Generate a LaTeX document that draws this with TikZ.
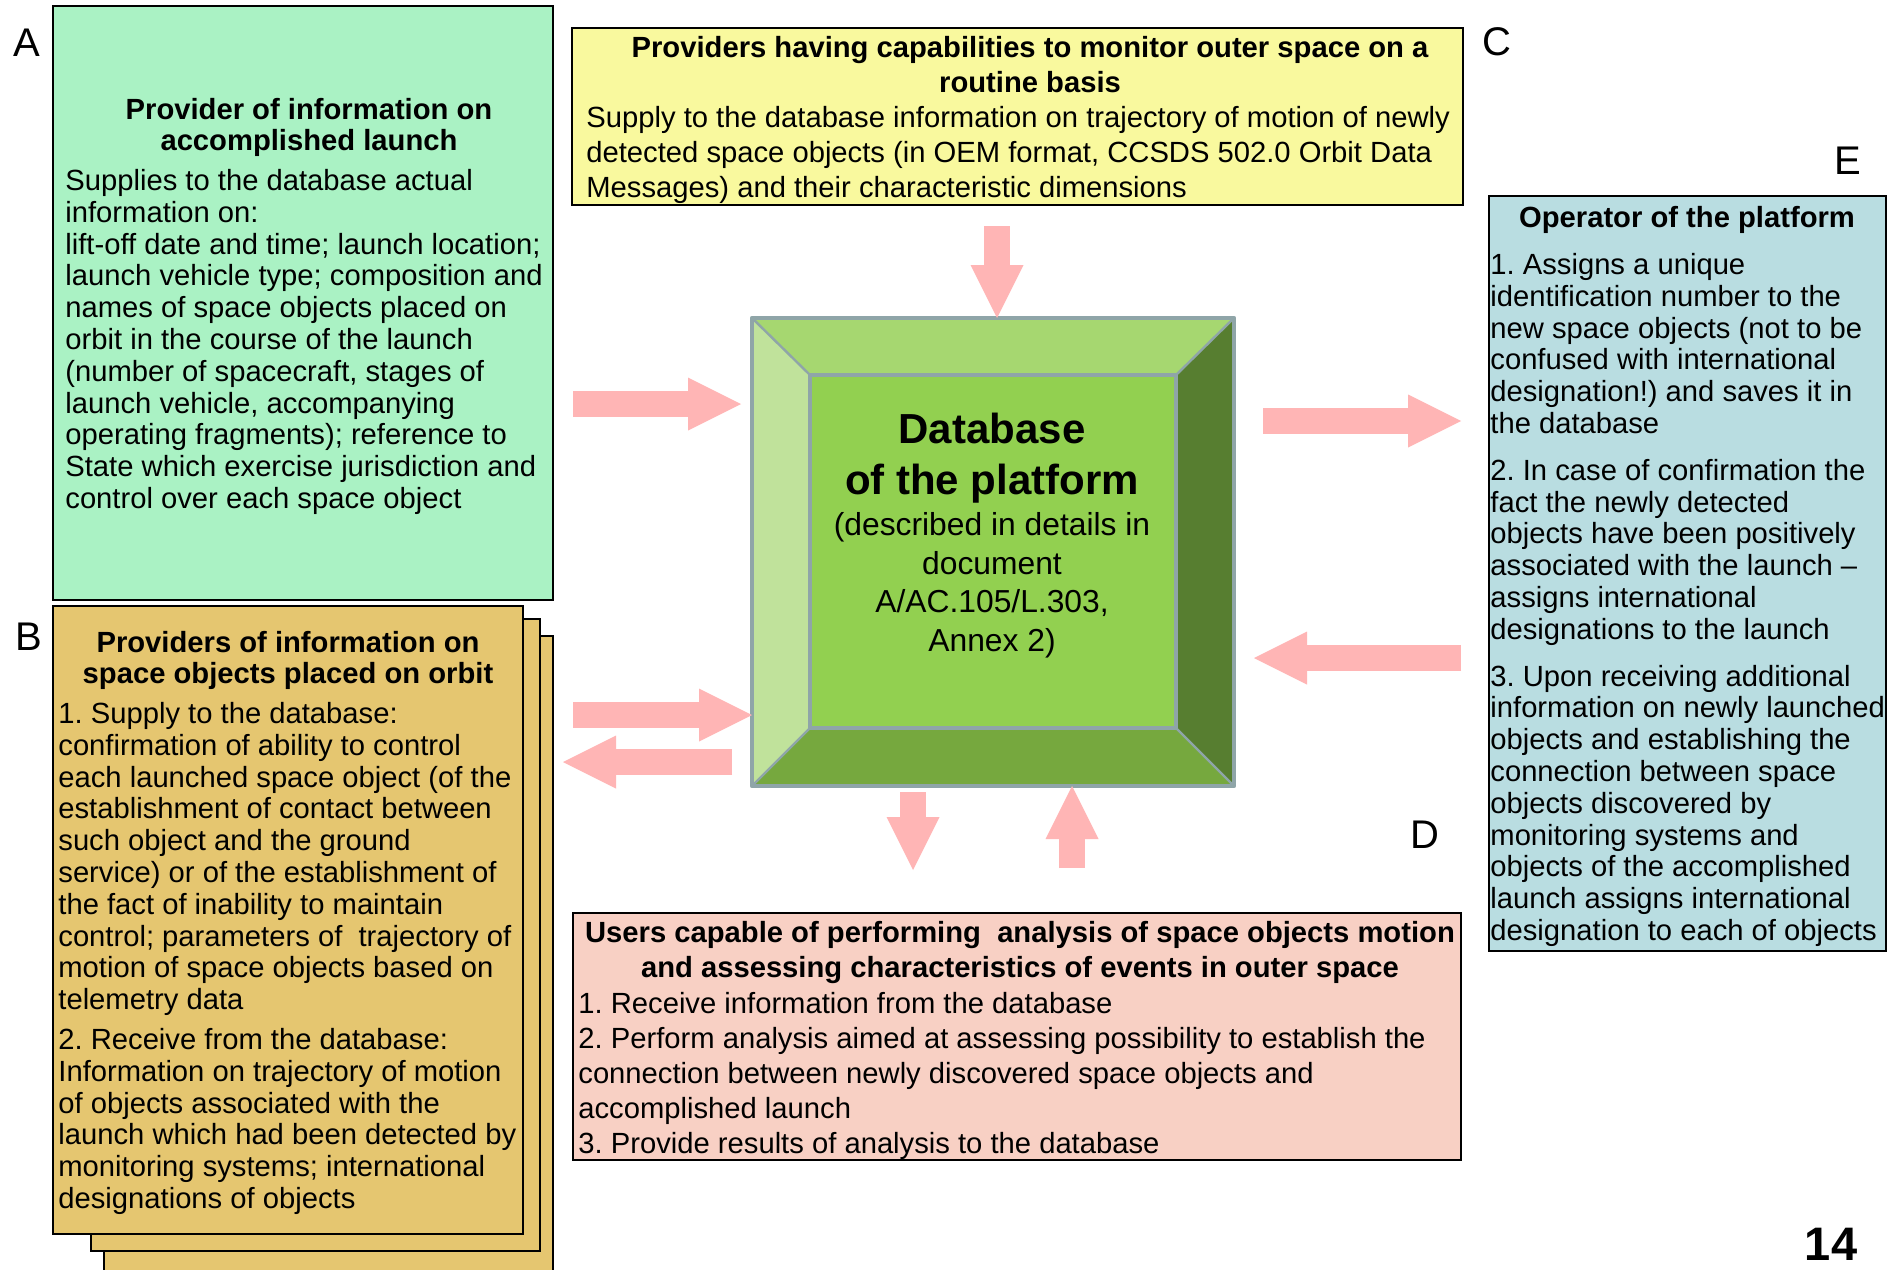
\documentclass[tikz,border=0pt]{standalone}
\usepackage{fontspec}
\setmainfont{Liberation Sans}
\usetikzlibrary{arrows.meta}
\frenchspacing

\definecolor{fillA}{RGB}{170,242,196}
\definecolor{fillB}{RGB}{229,198,112}
\definecolor{fillC}{RGB}{249,249,158}
\definecolor{fillD}{RGB}{248,208,196}
\definecolor{fillE}{RGB}{185,221,225}
\definecolor{pinkarr}{RGB}{255,181,181}
\definecolor{dbborder}{RGB}{143,165,168}
\definecolor{dbtop}{RGB}{166,215,112}
\definecolor{dbleft}{RGB}{192,226,155}
\definecolor{dbinner}{RGB}{146,208,80}
\definecolor{dbbottom}{RGB}{118,168,62}
\definecolor{dbright}{RGB}{87,126,48}

\tikzset{
  infobox/.style={draw=black, line width=0.8pt, inner sep=0pt, outer sep=0pt, anchor=north west},
  bodytext/.style={inner sep=0pt, anchor=north west, align=left, font=\fontsize{14.6}{15.9}\selectfont\frenchspacing},
  widebody/.style={inner sep=0pt, anchor=north west, align=left, font=\fontsize{14.6}{17.5}\selectfont\frenchspacing},
  titletext/.style={inner sep=0pt, anchor=north, align=center, font=\fontsize{14.6}{15.5}\selectfont\bfseries},
  widetitle/.style={inner sep=0pt, anchor=north, align=center, font=\fontsize{14.6}{17.5}\selectfont\bfseries},
  letterlabel/.style={inner sep=0pt, font=\fontsize{20}{24}\selectfont},
  blockarrow/.style={draw=pinkarr, line width=13pt, line cap=butt,
    -{Triangle[length=26.5pt, width=26.5pt, line width=0pt]}},
}

\begin{document}
\begin{tikzpicture}[x=0.5pt, y=-0.5pt]
\useasboundingbox (0,0) rectangle (1893,1269);
\fill[white] (0,0) rectangle (1893,1269);

% ---------- Box A ----------
\node[infobox, fill=fillA, minimum width=250pt, minimum height=297pt] (A) at (53,6) {};
\node[titletext] (Atitle) at (309,98) {Provider of information on\\accomplished launch};
\node[bodytext] (Abody) at (65,169) {Supplies to the database actual\\
information on:\\
lift-off date and time; launch location;\\
launch vehicle type; composition and\\
names of space objects placed on\\
orbit in the course of the launch\\
(number of spacecraft, stages of\\
launch vehicle, accompanying\\
operating fragments); reference to\\
State which exercise jurisdiction and\\
control over each space object};
\node[letterlabel] (LA) at (27,43) {A};

% ---------- Box B (stacked pages) ----------
\coordinate (B3nw) at (104,636);
\fill[fillB] (104,636) rectangle (553,1272);
\draw[black, line width=0.8pt] (104,1272) -- (B3nw) -- (553,636) -- (553,1272);
\node[infobox, fill=fillB, minimum width=224.5pt, minimum height=316pt] (B2) at (91,619) {};
\node[infobox, fill=fillB, minimum width=235pt, minimum height=314pt] (B) at (53,606) {};
\node[titletext] (Btitle) at (288,631) {Providers of information on\\space objects placed on orbit};
\node[bodytext] (Bbody) at (58,702) {1. Supply to the database:\\
confirmation of ability to control\\
each launched space object (of the\\
establishment of contact between\\
such object and the ground\\
service) or of the establishment of\\
the fact of inability to maintain\\
control; parameters of~ trajectory of\\
motion of space objects based on\\
telemetry data\\[4pt]
2. Receive from the database:\\
Information on trajectory of motion\\
of objects associated with the\\
launch which had been detected by\\
monitoring systems; international\\
designations of objects};
\node[letterlabel] (LB) at (29,637) {B};

% ---------- Box C ----------
\node[infobox, fill=fillC, minimum width=445.5pt, minimum height=88.5pt] (C) at (572,28) {};
\node[widetitle] (Ctitle) at (1030,36) {Providers having capabilities to monitor outer space on a\\routine basis};
\node[widebody] (Cbody) at (586,106) {Supply to the database information on trajectory of motion of newly\\
detected space objects (in OEM format, CCSDS 502.0 Orbit Data\\
Messages) and their characteristic dimensions};
\node[letterlabel] (LC) at (1497,42) {C};

% ---------- Box D ----------
\node[infobox, fill=fillD, minimum width=444pt, minimum height=123.5pt] (D) at (573,913) {};
\node[widetitle] (Dtitle) at (1020,921) {Users capable of performing~ analysis of space objects motion\\and assessing characteristics of events in outer space};
\node[widebody] (Dbody) at (578,992) {1. Receive information from the database\\
2. Perform analysis aimed at assessing possibility to establish the\\
connection between newly discovered space objects and\\
accomplished launch\\
3. Provide results of analysis to the database};
\node[letterlabel] (LD) at (1425,835) {D};

% ---------- Box E ----------
\node[infobox, fill=fillE, minimum width=198.5pt, minimum height=377.5pt] (E) at (1489,196) {};
\node[titletext] (Etitle) at (1687,206) {Operator of the platform};
\node[bodytext] (Ebody) at (1490,253) {1. Assigns a unique\\
identification number to the\\
new space objects (not to be\\
confused with international\\
designation!) and saves it in\\
the database\\[7.5pt]
2. In case of confirmation the\\
fact the newly detected\\
objects have been positively\\
associated with the launch –\\
assigns international\\
designations to the launch\\[7.5pt]
3. Upon receiving additional\\
information on newly launched\\
objects and establishing the\\
connection between space\\
objects discovered by\\
monitoring systems and\\
objects of the accomplished\\
launch assigns international\\
designation to each of objects};
\node[letterlabel] (LE) at (1848,161) {E};

% ---------- Database ----------
\node[inner sep=0pt, outer sep=0pt, anchor=north west, minimum width=241pt, minimum height=234pt] (DB) at (752,318) {};
\node[inner sep=0pt, outer sep=0pt, anchor=north west, minimum width=183pt, minimum height=176.5pt] (DBin) at (810,375) {};
\fill[dbtop] (DB.north west) -- (DB.north east) -- (DBin.north east) -- (DBin.north west) -- cycle;
\fill[dbleft] (DB.north west) -- (DBin.north west) -- (DBin.south west) -- (DB.south west) -- cycle;
\fill[dbbottom] (DB.south west) -- (DBin.south west) -- (DBin.south east) -- (DB.south east) -- cycle;
\fill[dbright] (DB.north east) -- (DBin.north east) -- (DBin.south east) -- (DB.south east) -- cycle;
\fill[dbinner] (DBin.north west) rectangle (DBin.south east);
\draw[dbborder, line width=1.2pt] (DB.north west) -- (DBin.north west)
  (DB.north east) -- (DBin.north east) (DB.south west) -- (DBin.south west)
  (DB.south east) -- (DBin.south east);
\draw[dbborder, line width=2.4pt, line join=round] (DB.north west) rectangle (DB.south east);
\draw[dbborder, line width=2.4pt] (DBin.north west) rectangle (DBin.south east);
\node[inner sep=0pt, anchor=north, align=center, font=\fontsize{21}{25.4}\selectfont\bfseries] (DBtitle) at (992,413) {Database\\of the platform};
\node[inner sep=0pt, anchor=north, align=center, font=\fontsize{15.9}{19.3}\selectfont] (DBsub) at (992,512) {(described in details in\\document\\A/AC.105/L.303,\\Annex 2)};

% ---------- Block arrows ----------
\coordinate (a1s) at (573,404);
\draw[blockarrow, shorten >=5.5pt] (a1s) -- (a1s -| DB.west);
\coordinate (a2s) at (573,715);
\draw[blockarrow] (a2s) -- (a2s -| DB.west);
\coordinate (a3s) at (732,762);
\draw[blockarrow, shorten >=20pt] (a3s) -- (a3s -| B.east);
\coordinate (a4s) at (997,226);
\draw[blockarrow] (a4s) -- (a4s |- DB.north);
\coordinate (a5s) at (1263,421);
\draw[blockarrow, shorten >=14pt] (a5s) -- (a5s -| E.west);
\coordinate (a6s) at (1461,658);
\draw[blockarrow, shorten >=10pt] (a6s) -- (a6s -| DB.east);
\coordinate (a7s) at (913,792);
\draw[blockarrow, shorten >=21.5pt] (a7s) -- (a7s |- D.north);
\coordinate (a8s) at (1072,868);
\draw[blockarrow] (a8s) -- (a8s |- DB.south);

% ---------- Page number ----------
\node[inner sep=0pt, font=\fontsize{23.5}{28}\selectfont\bfseries] (pagenum) at (1831,1244) {14};
\end{tikzpicture}
\end{document}
